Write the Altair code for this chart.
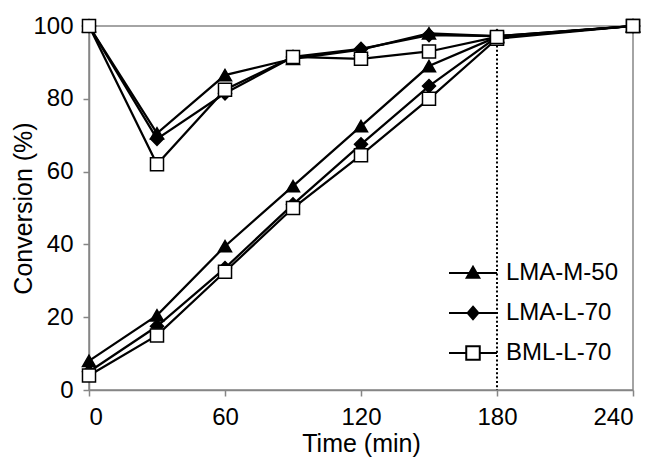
import altair as alt
import pandas as pd

times = [0, 30, 60, 90, 120, 150, 180, 240]
series_names = ["LMA-M-50", "LMA-L-70", "BML-L-70"]

m50_low = [8, 20.5, 39.5, 56, 72.5, 89, 97, 100]
m50_up = [100, 70.5, 86.5, 91, 93.5, 98, 97.2, 100]
l70_low = [5, 17.5, 33.5, 51, 67.5, 83.5, 97, 100]
l70_up = [100, 69, 81.5, 91.5, 93.7, 97.5, 97.2, 100]
b70_low = [4, 15, 32.5, 50, 64.5, 80, 96.5, 100]
b70_up = [100, 62, 82.5, 91.5, 91, 93, 97, 100]

x_ticks = [0, 60, 120, 180, 240]
y_ticks = [0, 20, 40, 60, 80, 100]
end_time = [180]
end_level = [97]

rows = []
for name, low, up in [
    ("LMA-M-50", m50_low, m50_up),
    ("LMA-L-70", l70_low, l70_up),
    ("BML-L-70", b70_low, b70_up),
]:
    for t, v in zip(times, low):
        rows.append({"series": name, "branch": "low", "time": t, "conv": v})
    for t, v in zip(times, up):
        rows.append({"series": name, "branch": "up", "time": t, "conv": v})
df = pd.DataFrame(rows)

rule_df = pd.DataFrame({"time": end_time, "top": end_level, "bottom": [0]})
legend_df = pd.DataFrame({"series": series_names})

FONT = "Liberation Sans"
AX = "#868686"

x_enc = alt.X(
    "time:Q",
    scale=alt.Scale(domain=[0, 240], nice=False),
    axis=alt.Axis(
        values=x_ticks, title="Time (min)", grid=False,
        domainColor=AX, domainWidth=1.5, tickColor=AX, tickWidth=1.5, tickSize=6,
        labelFont=FONT, labelFontSize=24, labelColor="black", labelPadding=9,
        titleFont=FONT, titleFontSize=25, titleFontWeight="normal", titleColor="black",
        titlePadding=2,
    ),
)
y_enc = alt.Y(
    "conv:Q",
    scale=alt.Scale(domain=[0, 100], nice=False),
    axis=alt.Axis(
        values=y_ticks, title="Conversion (%)", grid=False,
        domainColor=AX, domainWidth=1.5, tickColor=AX, tickWidth=1.5, tickSize=6,
        labelFont=FONT, labelFontSize=24, labelColor="black", labelPadding=10,
        titleFont=FONT, titleFontSize=25, titleFontWeight="normal", titleColor="black",
        titlePadding=-4,
    ),
)

lines = alt.Chart(df).mark_line(color="black", strokeWidth=2.25).encode(
    x=x_enc, y=y_enc, detail=["series:N", "branch:N"], order="time:Q"
)

points = alt.Chart(df).mark_point(
    filled=True, stroke="black", strokeWidth=1.5, size=170, opacity=1
).encode(
    x=x_enc,
    y=y_enc,
    shape=alt.Shape(
        "series:N",
        scale=alt.Scale(domain=series_names, range=["triangle-up", "diamond", "square"]),
        legend=None,
    ),
    fill=alt.Fill(
        "series:N",
        scale=alt.Scale(domain=series_names, range=["black", "black", "white"]),
        legend=None,
    ),
)

rule = alt.Chart(rule_df).mark_rule(
    color="black", strokeWidth=2, strokeDash=[2, 2.3]
).encode(x=alt.X("time:Q"), y=alt.Y("top:Q"), y2="bottom:Q")

tri_path = "M-1.6,0H1.6M0,-0.42L0.42,0.32L-0.42,0.32Z"
dia_path = "M-1.6,0H1.6M0,-0.42L0.36,0L0,0.42L-0.36,0Z"
sq_path = "M-1.6,0H-0.45M0.45,0H1.6M-0.45,-0.45H0.45V0.45H-0.45Z"

leg = alt.Legend(
    title=None, orient="none", legendX=368, legendY=231, padding=0,
    labelFont=FONT, labelFontSize=24, labelColor="black", labelOffset=17,
    symbolSize=900, symbolStrokeWidth=2, symbolStrokeColor="black",
    symbolOpacity=1, rowPadding=12,
)
legend_layer = alt.Chart(legend_df).transform_filter("false").mark_point(
    filled=False, opacity=1, strokeWidth=2
).encode(
    shape=alt.Shape(
        "series:N",
        scale=alt.Scale(domain=series_names, range=[tri_path, dia_path, sq_path]),
        legend=leg,
    ),
    fill=alt.Fill(
        "series:N",
        scale=alt.Scale(domain=series_names, range=["black", "black", "white"]),
        legend=leg,
    ),
    stroke=alt.Stroke(
        "series:N",
        scale=alt.Scale(domain=series_names, range=["black", "black", "black"]),
        legend=leg,
    ),
)

chart = (
    alt.layer(lines, rule, points, legend_layer)
    .resolve_scale(shape="independent", fill="independent", stroke="independent")
    .properties(
        width=544,
        height=364,
        autosize=alt.AutoSizeParams(type="none"),
        padding={"left": 81, "top": 18, "right": 13, "bottom": 68},
        background="white",
    )
    .configure_view(stroke=AX, strokeWidth=1.5)
)

chart.save("out.html", embed_options={"renderer": "svg", "actions": False})
